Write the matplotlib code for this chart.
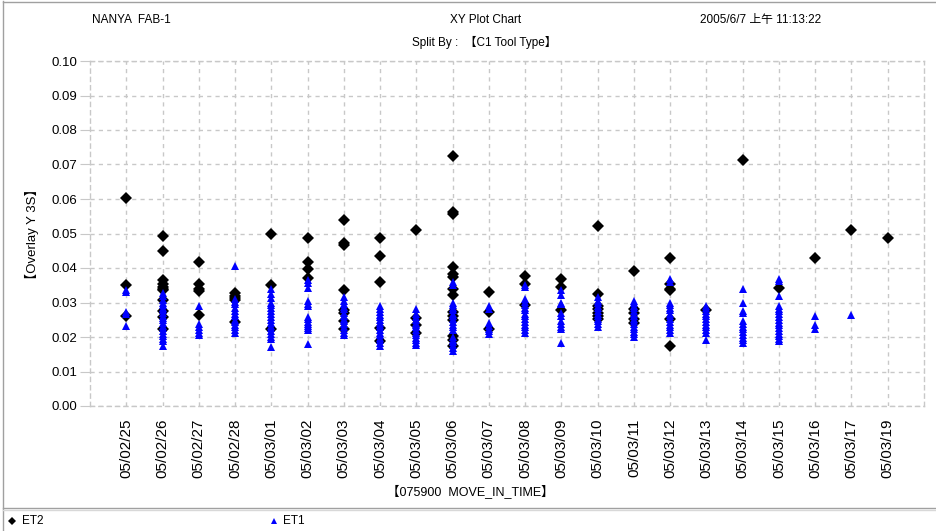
import matplotlib
matplotlib.use("Agg")
import matplotlib.pyplot as plt
from matplotlib.lines import Line2D

categories = ["05/02/25", "05/02/26", "05/02/27", "05/02/28", "05/03/01", "05/03/02",
              "05/03/03", "05/03/04", "05/03/05", "05/03/06", "05/03/07", "05/03/08",
              "05/03/09", "05/03/10", "05/03/11", "05/03/12", "05/03/13", "05/03/14",
              "05/03/15", "05/03/16", "05/03/17", "05/03/19"]

et2 = [
    [0.0603, 0.0350, 0.0262],
    [0.0494, 0.0450, 0.0364, 0.0355, 0.0345, 0.0340, 0.0335, 0.0308, 0.0274, 0.0259, 0.0222],
    [0.0416, 0.0355, 0.0340, 0.0332, 0.0263],
    [0.0328, 0.0320, 0.0314, 0.0308, 0.0243],
    [0.0499, 0.0352, 0.0222],
    [0.0487, 0.0418, 0.0397, 0.0372],
    [0.0540, 0.0472, 0.0466, 0.0336, 0.0278, 0.0270, 0.0247, 0.0222],
    [0.0487, 0.0434, 0.0360, 0.0225, 0.0188],
    [0.0510, 0.0256, 0.0236, 0.0212],
    [0.0725, 0.0562, 0.0557, 0.0403, 0.0383, 0.0373, 0.0340, 0.0322, 0.0272, 0.0262, 0.0250, 0.0202, 0.0192, 0.0175],
    [0.0331, 0.0273, 0.0222],
    [0.0376, 0.0354, 0.0294],
    [0.0368, 0.0346, 0.0277],
    [0.0521, 0.0326, 0.0290, 0.0280, 0.0270, 0.0262, 0.0252],
    [0.0390, 0.0280, 0.0270, 0.0252, 0.0242],
    [0.0428, 0.0354, 0.0340, 0.0335, 0.0251, 0.0175],
    [0.0278],
    [0.0712],
    [0.0342],
    [0.0428],
    [0.0510],
    [0.0487],
]

et1 = [
    [0.0335, 0.0330, 0.0272, 0.0267, 0.0233],
    [0.0328, 0.0318, 0.0308, 0.0300, 0.0292, 0.0285, 0.0278, 0.0270, 0.0262, 0.0255, 0.0248, 0.0240, 0.0232, 0.0225, 0.0218, 0.0210, 0.0202, 0.0195, 0.0188, 0.0175],
    [0.0290, 0.0237, 0.0228, 0.0220, 0.0212, 0.0207],
    [0.0407, 0.0310, 0.0302, 0.0295, 0.0285, 0.0275, 0.0268, 0.0260, 0.0250, 0.0243, 0.0235, 0.0228, 0.0220, 0.0213],
    [0.0340, 0.0325, 0.0312, 0.0300, 0.0292, 0.0283, 0.0275, 0.0267, 0.0258, 0.0250, 0.0242, 0.0233, 0.0225, 0.0217, 0.0208, 0.0200, 0.0193, 0.0172],
    [0.0366, 0.0356, 0.0342, 0.0305, 0.0296, 0.0290, 0.0258, 0.0252, 0.0244, 0.0238, 0.0232, 0.0226, 0.0220, 0.0181],
    [0.0315, 0.0305, 0.0297, 0.0288, 0.0280, 0.0270, 0.0262, 0.0253, 0.0245, 0.0237, 0.0228, 0.0220, 0.0212, 0.0205],
    [0.0290, 0.0280, 0.0272, 0.0265, 0.0258, 0.0250, 0.0242, 0.0235, 0.0228, 0.0220, 0.0212, 0.0205, 0.0198, 0.0190, 0.0183, 0.0175],
    [0.0280, 0.0266, 0.0258, 0.0250, 0.0242, 0.0235, 0.0228, 0.0220, 0.0212, 0.0205, 0.0197, 0.0190, 0.0183, 0.0176],
    [0.0360, 0.0350, 0.0300, 0.0292, 0.0285, 0.0277, 0.0268, 0.0260, 0.0252, 0.0244, 0.0236, 0.0228, 0.0220, 0.0200, 0.0192, 0.0185, 0.0178, 0.0168, 0.0160],
    [0.0290, 0.0280, 0.0240, 0.0232, 0.0224, 0.0216, 0.0210],
    [0.0350, 0.0345, 0.0310, 0.0302, 0.0294, 0.0285, 0.0277, 0.0268, 0.0260, 0.0252, 0.0244, 0.0236, 0.0228, 0.0220, 0.0212],
    [0.0335, 0.0322, 0.0300, 0.0295, 0.0270, 0.0262, 0.0245, 0.0238, 0.0230, 0.0222, 0.0184],
    [0.0315, 0.0305, 0.0298, 0.0290, 0.0283, 0.0275, 0.0268, 0.0260, 0.0252, 0.0245, 0.0237, 0.0230],
    [0.0305, 0.0298, 0.0290, 0.0283, 0.0275, 0.0268, 0.0260, 0.0252, 0.0245, 0.0237, 0.0230, 0.0222, 0.0215, 0.0208, 0.0200],
    [0.0369, 0.0359, 0.0300, 0.0292, 0.0285, 0.0277, 0.0268, 0.0260, 0.0252, 0.0244, 0.0236, 0.0228, 0.0220, 0.0212],
    [0.0290, 0.0284, 0.0275, 0.0268, 0.0260, 0.0252, 0.0244, 0.0236, 0.0228, 0.0220, 0.0212, 0.0192],
    [0.0339, 0.0300, 0.0276, 0.0270, 0.0246, 0.0238, 0.0230, 0.0222, 0.0214, 0.0206, 0.0198, 0.0190, 0.0184],
    [0.0369, 0.0361, 0.0320, 0.0290, 0.0282, 0.0274, 0.0266, 0.0258, 0.0250, 0.0242, 0.0234, 0.0226, 0.0218, 0.0210, 0.0202, 0.0194, 0.0188],
    [0.0261, 0.0236, 0.0224],
    [0.0264],
    [],
]

y_ticks = [0.00, 0.01, 0.02, 0.03, 0.04, 0.05, 0.06, 0.07, 0.08, 0.09, 0.10]

plt.rcParams['font.family'] = ['Liberation Sans', 'Noto Sans CJK SC', 'DejaVu Sans']

W, H = 936, 531
fig = plt.figure(figsize=(W / 100, H / 100), dpi=100)
fig.patch.set_facecolor('white')

ax = fig.add_axes([90 / W, 1 - 406 / H, (924 - 90) / W, (406 - 61) / H])
ax.set_facecolor('white')

grid_color = '#c8c8c8'
for i, vals in enumerate(et2):
    ax.plot([i] * len(vals), vals, linestyle='none', marker='D', color='black',
            markersize=5.8, markeredgewidth=0, zorder=3)
for i, vals in enumerate(et1):
    ax.plot([i] * len(vals), vals, linestyle='none', marker='^', color='#0000ff',
            markersize=5.6, markeredgewidth=0, zorder=4)

ax.set_xlim(-1, len(categories))
ax.set_ylim(0, 0.10)
ax.set_xticks(range(len(categories)))
ax.set_xticklabels(categories, rotation=90, fontsize=11)
ax.set_yticks(y_ticks)
ax.set_yticklabels([f"{v:.2f}" for v in y_ticks], fontsize=9.5)
ax.grid(True, color=grid_color, linestyle=(0, (3, 3)), linewidth=1)
ax.set_axisbelow(True)
for s in ax.spines.values():
    s.set_color(grid_color)
    s.set_linestyle((0, (3, 3)))
    s.set_linewidth(1)
ax.tick_params(axis='y', length=7, color=grid_color, pad=2, labelcolor='black')
ax.tick_params(axis='x', length=0, pad=9, labelcolor='black')

# y label
fig.text(32 / W, 1 - 234 / H, "【Overlay Y 3S】", rotation=90, ha='center', va='center', fontsize=9.5)
# x label
fig.text(470 / W, 1 - 491 / H, "【075900  MOVE_IN_TIME】", ha='center', va='center', fontsize=9)

# header
fig.text(92 / W, 1 - 20 / H, "NANYA  FAB-1", ha='left', va='center', fontsize=8.5)
fig.text(486 / W, 1 - 20 / H, "XY Plot Chart", ha='center', va='center', fontsize=8.5)
fig.text(484 / W, 1 - 42 / H, "Split By :  【C1 Tool Type】", ha='center', va='center', fontsize=8.5)
fig.text(700 / W, 1 - 20 / H, "2005/6/7 上午 11:13:22", ha='left', va='center', fontsize=8.5)

# frame lines
fig.add_artist(Line2D([3 / W, 3 / W], [0, 1 - 1 / H], transform=fig.transFigure, color='#a0a0a0', lw=1))
fig.add_artist(Line2D([3 / W, 1], [1 - 1.5 / H, 1 - 1.5 / H], transform=fig.transFigure, color='#a0a0a0', lw=1))
fig.add_artist(Line2D([3 / W, 1], [1 - 508 / H, 1 - 508 / H], transform=fig.transFigure, color='#a0a0a0', lw=1))
fig.add_artist(Line2D([3 / W, 1], [1 - 510 / H, 1 - 510 / H], transform=fig.transFigure, color='#d8d8d8', lw=1))

# legend
ly = 1 - 521 / H
fig.add_artist(Line2D([12 / W], [ly], transform=fig.transFigure, marker='D', color='black',
                      markersize=4.5, markeredgewidth=0, linestyle='none'))
fig.text(22 / W, ly, "ET2", ha='left', va='center', fontsize=8.5)
fig.add_artist(Line2D([274 / W], [ly], transform=fig.transFigure, marker='^', color='#0000ff',
                      markersize=4.5, markeredgewidth=0, linestyle='none'))
fig.text(283 / W, ly, "ET1", ha='left', va='center', fontsize=8.5)

fig.savefig("out.png", dpi=100, facecolor='white')
